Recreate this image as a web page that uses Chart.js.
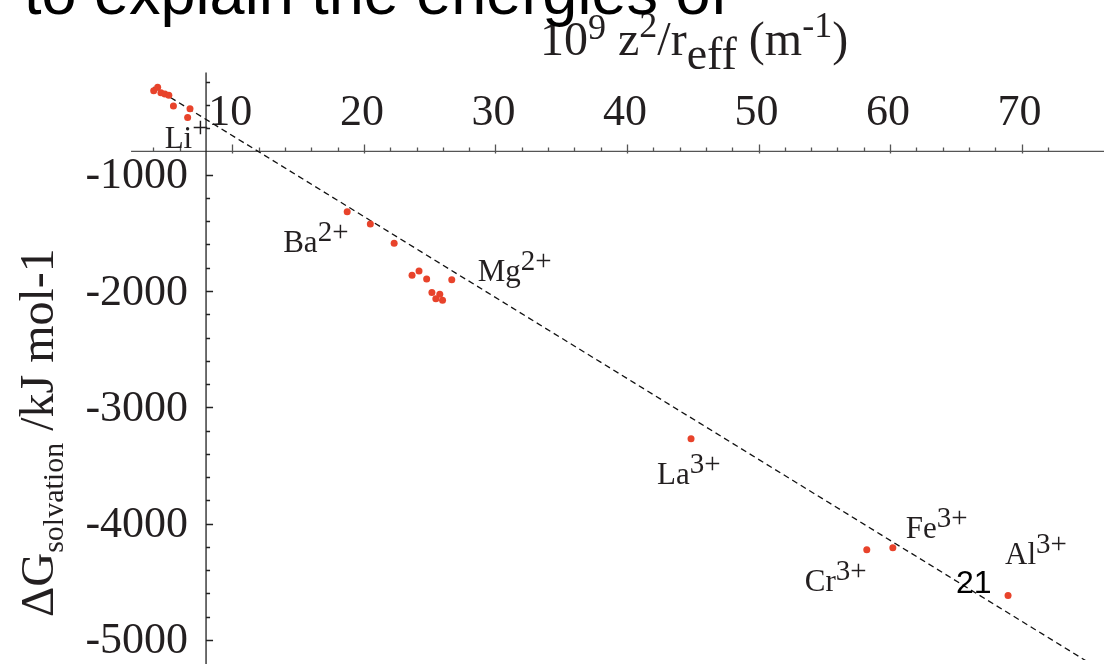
<!DOCTYPE html>
<html>
<head>
<meta charset="utf-8">
<script src="https://cdn.jsdelivr.net/npm/chart.js@4.4.1/dist/chart.umd.min.js"></script>
<style>
  html, body { margin: 0; padding: 0; background: #fff; }
  #wrap { position: relative; width: 1104px; height: 664px; overflow: hidden; }
</style>
</head>
<body>
<div id="wrap"><canvas id="born" width="1104" height="664"></canvas></div>
<script>
// z^2 / r_eff, in 1e9 m^-1
var invRadius = [4.02, 4.32, 4.57, 4.87, 5.17, 5.52, 6.78, 6.60,
                 18.73, 20.49, 22.30, 23.66, 24.19, 24.77, 26.68,
                 25.17, 25.77, 25.47, 25.98,
                 44.87, 58.23, 60.21, 68.97];
// measured free energy of solvation, kJ/mol
var deltaG = [-277, -248, -296, -305, -316, -409, -432, -509,
              -1318, -1424, -1590, -1865, -1828, -1896, -1904,
              -2012, -2027, -2066, -2080,
              -3270, -4224, -4207, -4618];
// Born model line
var bornX = [4.0, 76];
var bornY = [-246, -5257];

// labelled ions and the point each one belongs to
var labelIons = ['Li', 'Ba', 'Mg', 'La', 'Cr', 'Fe', 'Al'];
var labelCharges = ['+', '2+', '2+', '3+', '3+', '3+', '3+'];
var labelPoint = [7, 8, 14, 19, 20, 21, 22];

// axes cross at (8, -800), like the original Mathematica plot
var crossX = 8, crossY = -800;
var xAxisStart = 2.3, yAxisTop = -120;

var SERIF = '"Liberation Serif", "Times New Roman", serif';
var SANS = '"Liberation Sans", Arial, sans-serif';
var INK = '#231f20';

// pixel offsets of each ion label from its point
var labelOffsets = [[-23, 30], [-64, 40], [26, 1], [-34, 45], [-62, 41], [13, -10], [-3, -31]];

function drawRuns(ctx, runs, x, y) {
  // runs: [text, size, baseline shift]
  runs.forEach(function (r) {
    ctx.font = r[1] + 'px ' + SERIF;
    ctx.fillText(r[0], x, y + r[2]);
    x += ctx.measureText(r[0]).width;
  });
  return x;
}

const crossAxes = {
  id: 'crossAxes',
  beforeDatasetsDraw(chart) {
    const ctx = chart.ctx;
    const xs = chart.scales.x, ys = chart.scales.y;
    const ax = xs.getPixelForValue(crossX);
    const ay = ys.getPixelForValue(crossY);
    ctx.save();
    ctx.strokeStyle = '#555';
    ctx.lineWidth = 1.3;

    // horizontal axis with ticks pointing up
    ctx.beginPath();
    ctx.moveTo(xs.getPixelForValue(xAxisStart), ay);
    ctx.lineTo(chart.width, ay);
    xs.ticks.forEach(function (t) {
      if (t.value < 4 || t.value > 76 || Math.abs(t.value - crossX) < 1e-6) return;
      if (Math.abs(t.value - Math.round(t.value)) > 1e-6) return;
      const px = Math.round(xs.getPixelForValue(t.value)) + 0.5;
      const major = Math.abs(t.value % 10) < 1e-6;
      ctx.moveTo(px, ay + (major ? 2 : 0));
      ctx.lineTo(px, ay - (major ? 7 : 4));
    });
    ctx.stroke();

    // vertical axis with ticks pointing right
    ctx.strokeStyle = '#222';
    ctx.beginPath();
    ctx.moveTo(ax, ys.getPixelForValue(yAxisTop));
    ctx.lineTo(ax, chart.height);
    ys.ticks.forEach(function (t) {
      if (t.value > -200 || Math.abs(t.value - crossY) < 1e-6) return;
      if (Math.abs(t.value % 200) > 1e-6) return;
      const py = Math.round(ys.getPixelForValue(t.value)) + 0.5;
      const major = Math.abs(t.value % 1000) < 1e-6;
      ctx.moveTo(ax, py);
      ctx.lineTo(ax + (major ? 7 : 4), py);
    });
    ctx.stroke();

    // tick labels
    ctx.fillStyle = INK;
    ctx.font = '44px ' + SERIF;
    ctx.textAlign = 'center';
    ctx.textBaseline = 'alphabetic';
    xs.ticks.forEach(function (t) {
      if (t.value < 10 || t.value > 70 || Math.abs(t.value % 10) > 1e-6) return;
      ctx.fillText(String(t.value), xs.getPixelForValue(t.value) - 2, ay - 26);
    });
    ctx.textAlign = 'right';
    ctx.textBaseline = 'middle';
    ys.ticks.forEach(function (t) {
      if (t.value > -1000 || Math.abs(t.value % 1000) > 1e-6) return;
      ctx.fillText('-' + Math.abs(t.value), ax - 18, ys.getPixelForValue(t.value) + 2);
    });

    // axis titles
    ctx.textAlign = 'left';
    ctx.textBaseline = 'alphabetic';
    drawRuns(ctx, [['10', 48, 0], ['9', 36, -16], [' z', 48, 0], ['2', 36, -18],
                   ['/r', 48, 0], ['eff', 46, 14], [' (m', 48, 0], ['-1', 36, -18], [')', 48, 0]], 540, 55);

    ctx.save();
    ctx.translate(53, 617);
    ctx.rotate(-Math.PI / 2);
    let end = drawRuns(ctx, [['\u0394G', 47, 0], ['solvation', 30, 10]], 0, 0);
    drawRuns(ctx, [[' /kJ mol-1', 48, 0]], end, 0);
    ctx.restore();
    ctx.restore();
  },
  afterDatasetsDraw(chart) {
    const ctx = chart.ctx;
    const meta = chart.getDatasetMeta(1);
    ctx.save();
    ctx.fillStyle = INK;
    ctx.textAlign = 'left';
    ctx.textBaseline = 'alphabetic';
    labelIons.forEach(function (ion, i) {
      const el = meta.data[labelPoint[i]];
      const off = labelOffsets[i];
      drawRuns(ctx, [[ion, 31, 0], [labelCharges[i], 29, -11]], el.x + off[0], el.y + off[1]);
    });

    // slide text around the figure
    ctx.fillStyle = '#000';
    ctx.font = '63px ' + SANS;
    ctx.fillText('to explain the energies of', 24, 14);
    ctx.font = '32px ' + SANS;
    ctx.fillText('21', 956, 593);
    ctx.restore();
  }
};

new Chart(document.getElementById('born'), {
  type: 'scatter',
  data: {
    datasets: [
      {
        type: 'line',
        label: 'Born',
        data: bornX.map(function (x, i) { return { x: x, y: bornY[i] }; }),
        borderColor: '#111',
        borderWidth: 1.3,
        borderDash: [6, 4],
        pointRadius: 0,
        fill: false,
        order: 2
      },
      {
        label: 'measured',
        data: invRadius.map(function (x, i) { return { x: x, y: deltaG[i] }; }),
        backgroundColor: '#e8432b',
        borderWidth: 0,
        pointRadius: 3.5,
        order: 1
      }
    ]
  },
  options: {
    responsive: false,
    animation: false,
    layout: { padding: 0 },
    plugins: { legend: { display: false }, tooltip: { enabled: false } },
    scales: {
      x: { type: 'linear', min: -7.36, max: 75.96, display: false, ticks: { stepSize: 2 } },
      y: { type: 'linear', min: -5173, max: 468, display: false, ticks: { stepSize: 200 } }
    }
  },
  plugins: [crossAxes]
});
</script>
</body>
</html>
